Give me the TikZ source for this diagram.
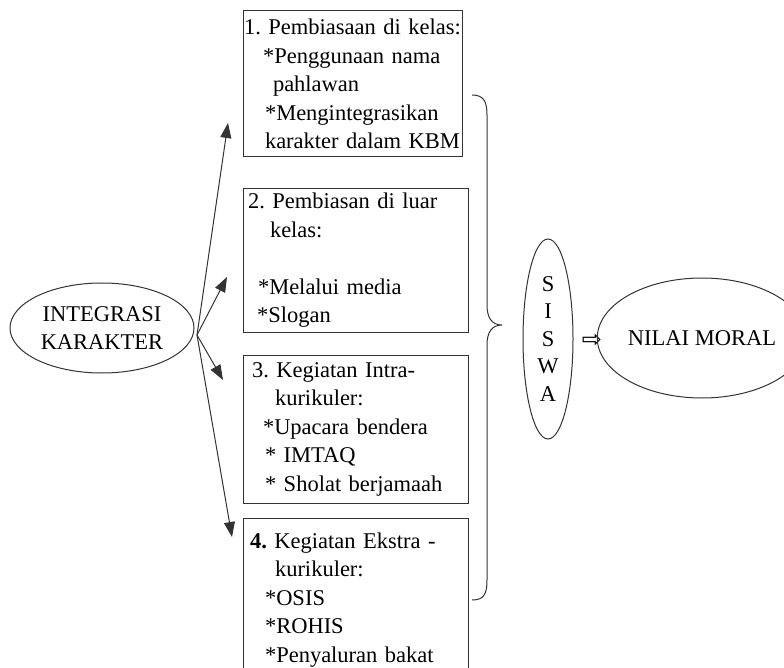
\documentclass[tikz,border=0pt]{standalone}
\usepackage{fontspec}
\setmainfont{Liberation Serif}
\newfontfamily\simbol{DejaVu Sans}
\usetikzlibrary{shapes.geometric, arrows.meta}
\definecolor{garis}{rgb}{0.2, 0.2, 0.2}
\frenchspacing
\hyphenpenalty=10000

\begin{document}
\begin{tikzpicture}[x=1pt, y=-1pt,
        kotak/.style={draw=garis, line width=1pt, rectangle, align=left, inner xsep=0pt, inner ysep=0pt, font=\fontsize{22.5}{28.5}\selectfont},
        oval/.style={draw=garis, line width=1pt, ellipse, inner sep=0pt, align=center, font=\fontsize{22.5}{28}\selectfont},
        panah/.style={-{Triangle[length=15pt,width=11pt]}, line width=1pt, garis}]
            \useasboundingbox (0,0) rectangle (784,668);
            \clip (0,0) rectangle (784,668);
            % pusat
            \node[oval, minimum width=184pt, minimum height=90pt] (ik) at (102,328) {INTEGRASI\\KARAKTER};
            \coordinate (asal) at (197,335);
            % kotak kegiatan
            \node[kotak, text width=219pt, minimum height=146pt] (k1) at (352.5,84) {\mbox{\hspace*{1pt}1. Pembiasaan di kelas:}\\
                \hspace*{20pt}*Penggunaan nama\\
                \hspace*{30pt}pahlawan\\
                \hspace*{22pt}*Mengintegrasikan\\
                \hspace*{22pt}karakter dalam KBM};
            \node[kotak, text width=225pt, minimum height=143pt] (k2) at (355.5,260.5) {\hspace*{5pt}2. Pembiasan di luar\\
                \hspace*{27pt}kelas:\\[28.5pt]
                \hspace*{15pt}*Melalui media\\
                \hspace*{14pt}*Slogan};
            \node[kotak, text width=225pt, minimum height=148pt] (k3) at (355.5,429) {\hspace*{9pt}3. Kegiatan Intra-\\
                \hspace*{32pt}kurikuler:\\
                \hspace*{20pt}*Upacara bendera\\
                \hspace*{22pt}* IMTAQ\\
                \hspace*{22pt}* Sholat berjamaah};
            \node[kotak, text width=225pt, minimum height=164pt] (k4) at (355.5,600) {\hspace*{7pt}\textbf{4.} Kegiatan Ekstra -\\
                \hspace*{32pt}kurikuler:\\
                \hspace*{22pt}*OSIS\\
                \hspace*{22pt}*ROHIS\\
                \hspace*{22pt}*Penyaluran bakat};
            % ujung panah
            \coordinate (u1) at (228,123);
            \coordinate (u2) at (227,277);
            \coordinate (u3) at (223,380);
            \coordinate (u4) at (232,537);
            \draw[panah] (asal) -- (u1);
            \draw[panah] (asal) -- (u2);
            \draw[panah] (asal) -- (u3);
            \draw[panah] (asal) -- (u4);
            % kurung kurawal
            \draw[garis, line width=1pt] (472,95) .. controls (484,95) and (487,102) .. (487,115) -- (487,305)
                .. controls (487,318) and (492,325) .. (502,325)
                .. controls (492,325) and (487,332) .. (487,345) -- (487,580)
                .. controls (487,594) and (484,600) .. (472,600);
            % siswa dan nilai moral
            \node[oval, minimum width=50pt, minimum height=200pt, font=\fontsize{22.5}{27.5}\selectfont] (siswa) at (548,339) {S\\I\\S\\W\\A};
            \node[font=\simbol\fontsize{24}{24}\selectfont, inner sep=0pt] (imp) at (592,341) {⇨};
            \node[oval, minimum width=188pt, minimum height=120pt] (nm) at (702,338) {NILAI MORAL};
        \end{tikzpicture}
\end{document}
